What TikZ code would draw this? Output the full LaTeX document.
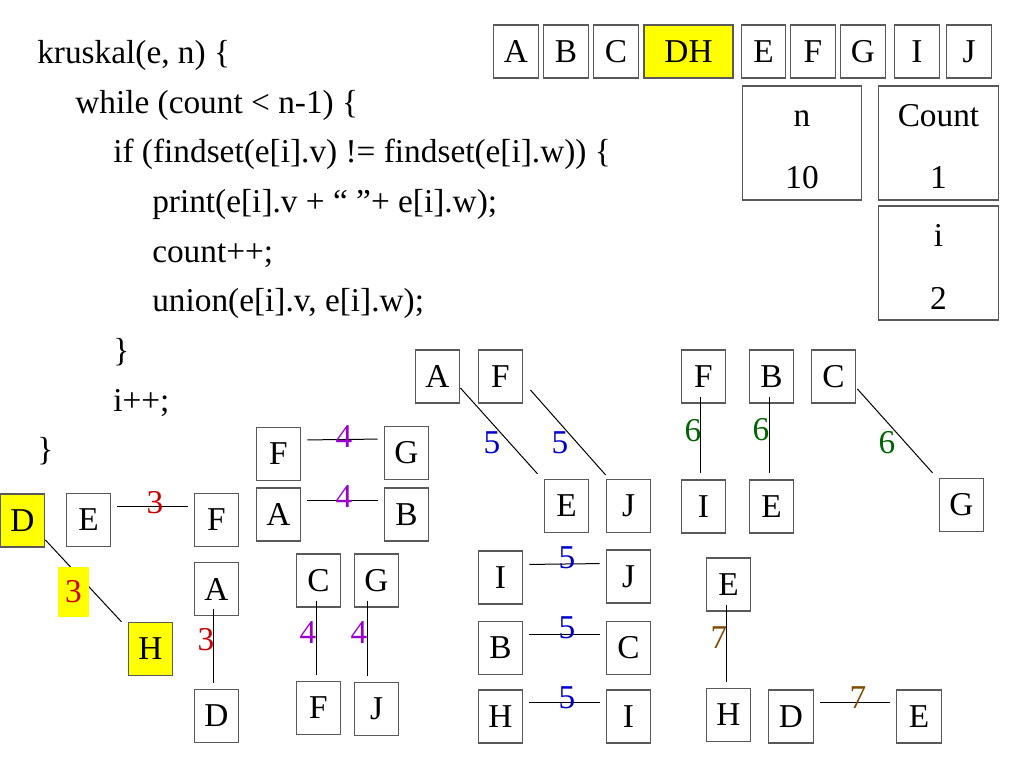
\documentclass[tikz,border=0pt]{standalone}
\usepackage{fontspec}
\setmainfont{Liberation Serif}
\usetikzlibrary{calc}

\definecolor{wred}{RGB}{204,0,0}
\definecolor{wpurple}{RGB}{153,0,204}
\definecolor{wblue}{RGB}{0,0,204}
\definecolor{wgreen}{RGB}{0,102,0}
\definecolor{wbrown}{RGB}{128,76,0}
\definecolor{hilite}{RGB}{255,255,0}

\begin{document}
\begin{tikzpicture}[x=0.75pt,y=-0.75pt,
    font=\fontsize{25}{30}\selectfont,
    box/.style={draw=black!65,line width=0.9pt,minimum width=33.5pt,minimum height=39.75pt,inner sep=0pt},
    bigbox/.style={draw=black!65,line width=0.9pt,minimum width=89.5pt,minimum height=85.5pt,inner sep=0pt},
    code/.style={anchor=base west,inner sep=0pt},
    txt/.style={anchor=base,inner sep=0pt},
    lab/.style={inner sep=0pt},
    edge/.style={line width=0.75pt,shorten <=4.5pt,shorten >=4.5pt},
    vwire/.style={line width=0.75pt,shorten <=-5.25pt,shorten >=4.5pt},
    wire/.style={line width=0.75pt}]
\useasboundingbox (0,0) rectangle (1024,768);

% the code
\node[code] (code1) at (37,63) {kruskal(e, n) \{};
\node[code] (code2) at (75,113) {while (count < n-1) \{};
\node[code] (code3) at (113,162) {if (findset(e[i].v) != findset(e[i].w)) \{};
\node[code] (code4) at (152,212) {print(e[i].v + “ ”+ e[i].w);};
\node[code] (code5) at (152,262) {count++;};
\node[code] (code6) at (152,311) {union(e[i].v, e[i].w);};
\node[code] (code7) at (113,361) {\}};
\node[code] (code8) at (113,411) {i++;};
\node[code] (code9) at (37,460) {\}};

% the sets
\node[box] (tA) at (516,51.5) {A};
\node[box] (tB) at (566,51.5) {B};
\node[box] (tC) at (616,51.5) {C};
\node[box,fill=hilite,minimum width=66.75pt] (tDH) at (688.5,51.5) {DH};
\node[box] (tE) at (763.5,51.5) {E};
\node[box] (tF) at (813,51.5) {F};
\node[box] (tG) at (863,51.5) {G};
\node[box] (tI) at (917,51.5) {I};
\node[box] (tJ) at (969,51.5) {J};

% the counters
\node[bigbox] (nbox) at (802,143) {};
\node[bigbox] (countbox) at (938.5,143) {};
\node[bigbox] (ibox) at (938.5,263) {};
\node[txt] (nname) at (802,126) {n};
\node[txt] (nval) at (802,188) {10};
\node[txt] (countname) at (938.5,126) {Count};
\node[txt] (countval) at (938.5,188) {1};
\node[txt] (iname) at (938.5,246) {i};
\node[txt] (ival) at (938.5,309) {2};

% weight 3
\node[box,fill=hilite] (d3a) at (22.5,520.5) {D};
\node[box] (e3) at (88.5,520) {E};
\node[box] (f3) at (216.5,520) {F};
\node[box,fill=hilite] (h3a) at (150.5,649) {H};
\node[box] (a3) at (216.5,589) {A};
\node[box] (d3b) at (216.5,716) {D};

% weight 4
\node[box] (f4a) at (278.5,454) {F};
\node[box] (g4a) at (406.5,453) {G};
\node[box] (a4) at (278.5,514.5) {A};
\node[box] (b4) at (406.5,514.5) {B};
\node[box] (c4) at (318.5,580.5) {C};
\node[box] (g4b) at (376.5,580.5) {G};
\node[box] (f4b) at (318.5,708) {F};
\node[box] (j4) at (376.5,709) {J};

% weight 5
\node[box] (a5) at (437.5,376.5) {A};
\node[box] (f5) at (500.5,376.5) {F};
\node[box] (e5) at (566.5,506) {E};
\node[box] (j5a) at (628.5,506) {J};
\node[box] (i5a) at (500.5,577.5) {I};
\node[box] (j5b) at (628.5,576.5) {J};
\node[box] (b5) at (500.5,648) {B};
\node[box] (c5) at (628.5,648) {C};
\node[box] (h5) at (500.5,716.5) {H};
\node[box] (i5b) at (628.5,716.5) {I};

% weight 6
\node[box] (f6) at (703.5,376.5) {F};
\node[box] (i6) at (703.5,506.5) {I};
\node[box] (b6) at (771.5,376.5) {B};
\node[box] (e6) at (771.5,506.5) {E};
\node[box] (c6) at (833.5,376.5) {C};
\node[box] (g6) at (961.5,505) {G};

% weight 7
\node[box] (e7a) at (728.5,584.5) {E};
\node[box] (h7) at (728.5,715) {H};
\node[box] (d7) at (791,716.5) {D};
\node[box] (e7b) at (919,716.5) {E};

% edges
\draw[edge] ($(e3.east)+(0,-14)$) -- ($(f3.west)+(0,-14)$);
\draw[wire] ($(d3a.east)+(0,19.5)$) -- ($(h3a.north west)+(-6,0)$);
\draw[vwire] ($(a3.south)+(-3,0)$) -- ($(d3b.north)+(-3,0)$);
\draw[edge] ($(f4a.east)+(0,-14)$) -- ($(g4a.west)+(0,-14)$);
\draw[edge] ($(a4.east)+(0,-14)$) -- ($(b4.west)+(0,-14)$);
\draw[vwire] ($(c4.south)+(-2.5,0)$) -- ($(f4b.north)+(-2.5,0)$);
\draw[vwire] ($(g4b.south)+(-9.5,0)$) -- ($(j4.north)+(-9.5,0)$);
\draw[wire] ($(a5.east)+(0,11.5)$) -- ($(e5.north west)+(-6,-5)$);
\draw[wire] ($(f5.east)+(7,13.5)$) -- ($(j5a.north west)+(0,-4)$);
\draw[edge] ($(i5a.east)+(0,-13)$) -- ($(j5b.west)+(0,-13)$);
\draw[edge] ($(b5.east)+(0,-14)$) -- ($(c5.west)+(0,-14)$);
\draw[edge] ($(h5.east)+(0,-14)$) -- ($(i5b.west)+(0,-14)$);
\draw[vwire] ($(f6.south)+(-3.5,0)$) -- ($(i6.north)+(-3.5,0)$);
\draw[vwire] ($(b6.south)+(-2.5,0)$) -- ($(e6.north)+(-2.5,0)$);
\draw[wire] ($(c6.east)+(1,12.5)$) -- ($(g6.north west)+(-6,-5)$);
\draw[vwire] ($(e7a.south)+(-2.5,0)$) -- ($(h7.north)+(-2.5,0)$);
\draw[edge] ($(d7.east)+(0,-14)$) -- ($(e7b.west)+(0,-14)$);

% weights
\node[lab,text=wred] (l3a) at (155,503) {3};
\node[lab,text=wred,fill=hilite,minimum width=23.25pt,minimum height=37.5pt] (l3b) at (73.5,592) {3};
\node[lab,text=wred] (l3c) at (206,640) {3};
\node[lab,text=wpurple] (l4a) at (344,437) {4};
\node[lab,text=wpurple] (l4b) at (344,497) {4};
\node[lab,text=wpurple] (l4c) at (308,633) {4};
\node[lab,text=wpurple] (l4d) at (359,633) {4};
\node[lab,text=wblue] (l5a) at (492,443) {5};
\node[lab,text=wblue] (l5b) at (560,443) {5};
\node[lab,text=wblue] (l5c) at (567,558) {5};
\node[lab,text=wblue] (l5d) at (567,628) {5};
\node[lab,text=wblue] (l5e) at (567,698) {5};
\node[lab,text=wgreen] (l6a) at (693,431) {6};
\node[lab,text=wgreen] (l6b) at (761,430) {6};
\node[lab,text=wgreen] (l6c) at (887,443) {6};
\node[lab,text=wbrown] (l7a) at (719,638) {7};
\node[lab,text=wbrown] (l7b) at (858,698) {7};
\end{tikzpicture}
\end{document}
